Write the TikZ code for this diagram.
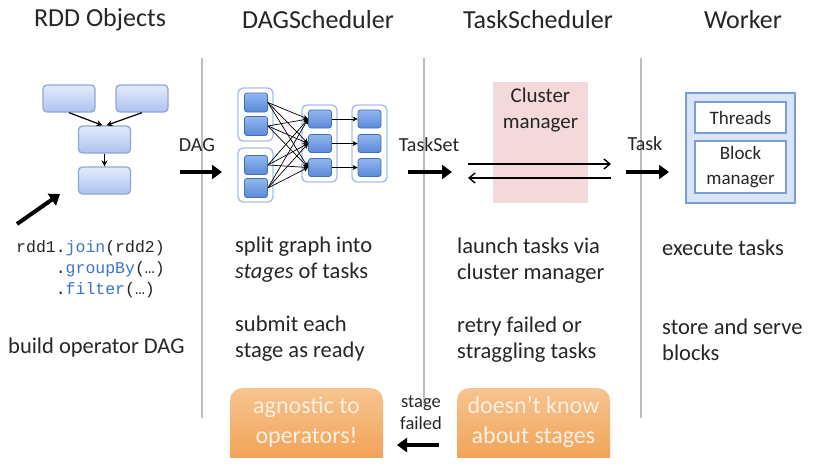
\documentclass[tikz,border=0pt]{standalone}
\usepackage{fontspec}
\setmainfont{Carlito}
\newfontfamily\codefont{Liberation Mono}
\usetikzlibrary{arrows.meta}
\definecolor{txt}{HTML}{262626}
\definecolor{sepgray}{HTML}{BDBDBD}
\definecolor{codeblue}{HTML}{3F74C8}
\definecolor{rddtop}{HTML}{E3EBFC}
\definecolor{rddbot}{HTML}{AFC3EF}
\definecolor{rddline}{HTML}{8FA6D6}
\definecolor{dagtop}{HTML}{93B7EF}
\definecolor{dagbot}{HTML}{5A89D7}
\definecolor{dagline}{HTML}{4070C0}
\definecolor{grpline}{HTML}{A9C0E6}
\definecolor{pink}{HTML}{F3D9D9}
\definecolor{wkfill}{HTML}{D9E4F6}
\definecolor{wkline}{HTML}{7C9CD6}
\definecolor{orgtop}{HTML}{F7C490}
\definecolor{orgbot}{HTML}{EF9A48}
\definecolor{orgtext}{HTML}{FDF0E2}
\begin{document}
\begin{tikzpicture}[x=1pt,y=-1pt,
  title/.style={text=txt,font=\fontsize{26}{30}\selectfont,inner sep=0pt},
  body/.style={text=txt,font=\fontsize{22.5}{26}\selectfont,align=left,anchor=west,inner sep=0pt},
  lbl/.style={text=txt,font=\fontsize{20}{22}\selectfont,inner sep=0pt},
  code/.style={text=txt,font=\codefont\fontsize{16.5}{21}\selectfont,align=left,anchor=west,inner sep=0pt},
  sep/.style={draw=sepgray,line width=1.5pt},
  rddbox/.style={draw=rddline,line width=1.3pt,rounded corners=4pt,top color=rddtop,bottom color=rddbot,minimum width=52pt,minimum height=27pt,inner sep=0pt},
  rddedge/.style={draw=black,line width=1.2pt,-{Stealth[length=6pt,width=6pt]}},
  grp/.style={draw=grpline,fill=white,line width=1.4pt,rounded corners=5pt,minimum width=35pt,inner sep=0pt},
  daginner/.style={draw=dagline,line width=0.8pt,rounded corners=2.5pt,top color=dagtop,bottom color=dagbot,minimum width=23pt,minimum height=19pt,inner sep=0pt},
  dagedge/.style={draw=black,line width=0.7pt,-{Stealth[length=5pt,width=5pt]}},
  bigarrow/.style={draw=black,line width=4pt,-{Triangle[length=10pt,width=14pt]}},
  thinarrow/.style={draw=black,line width=1.4pt,-{Straight Barb[length=6pt,width=10pt]}},
  wkbox/.style={draw=wkline,line width=1.4pt,fill=white,minimum width=91pt,inner sep=0pt},
  orgbox/.style={top color=orgtop,bottom color=orgbot,rounded corners=12pt,minimum width=153pt,minimum height=90pt,inner sep=0pt,anchor=north},
  orgtxt/.style={text=orgtext,font=\fontsize{24}{30}\selectfont,align=center,inner sep=0pt}
]
\useasboundingbox[fill=white] (0,0) rectangle (820,466);

% titles
\node[title] (t1) at (100,20) {RDD Objects};
\node[title] (t2) at (318,20) {DAGScheduler};
\node[title] (t3) at (538,20) {TaskScheduler};
\node[title] (t4) at (743,20) {Worker};

% separators
\coordinate (s1a) at (202,58); \coordinate (s1b) at (202,418);
\coordinate (s2a) at (424,58); \coordinate (s2b) at (424,405);
\coordinate (s3a) at (641,58); \coordinate (s3b) at (641,418);
\draw[sep] (s1a) -- (s1b);
\draw[sep] (s2a) -- (s2b);
\draw[sep] (s3a) -- (s3b);

% RDD objects
\node[rddbox] (r1) at (69,98.5) {};
\node[rddbox] (r2) at (142,98.5) {};
\node[rddbox] (r3) at (104.5,139.5) {};
\node[rddbox] (r4) at (104.5,180.5) {};
\draw[rddedge] (r1.south) -- ([xshift=-2pt]r3.north);
\draw[rddedge] (r2.south) -- ([xshift=2pt]r3.north);
\draw[rddedge] (r3.south) -- (r4.north);

\coordinate (da) at (17,224);
\coordinate (db) at (60,194);
\draw[bigarrow] (da) -- (db);

\node[code] (code) at (16,269) {rdd1.\textcolor{codeblue}{join}(rdd2)\\
\hphantom{rdd1}.\textcolor{codeblue}{groupBy}(…)\\
\hphantom{rdd1}.\textcolor{codeblue}{filter}(…)};
\node[body] (b1) at (8,347) {build operator DAG};

% DAG arrow
\node[lbl] (ldag) at (197,145) {DAG};
\coordinate (a1a) at (180,172); \coordinate (a1b) at (222,172);
\draw[bigarrow] (a1a) -- (a1b);

% DAG scheduler graph
\node[grp,minimum height=53pt] (g1) at (255.5,114.5) {};
\node[grp,minimum height=54pt] (g2) at (255.5,175) {};
\node[grp,minimum height=77pt] (g3) at (319.5,143.5) {};
\node[grp,minimum height=77pt] (g4) at (369.5,143.5) {};
\node[daginner] (a1) at (256,102.5) {};
\node[daginner] (a2) at (256,126) {};
\node[daginner] (b1) at (256,165) {};
\node[daginner] (b2) at (256,188) {};
\node[daginner,minimum height=18pt] (c1) at (320,119) {};
\node[daginner,minimum height=18pt] (c2) at (320,143.5) {};
\node[daginner,minimum height=18pt] (c3) at (320,167.5) {};
\node[daginner,minimum height=18pt] (d1) at (369.5,119) {};
\node[daginner,minimum height=18pt] (d2) at (369.5,143.5) {};
\node[daginner,minimum height=18pt] (d3) at (369.5,167.5) {};
\foreach \s in {a1,a2,b1,b2}
  \foreach \t in {c1,c2,c3}
    \draw[dagedge] (\s.east) -- (\t.west);
\draw[dagedge] (c1.east) -- (d1.west);
\draw[dagedge] (c2.east) -- (d2.west);
\draw[dagedge] (c3.east) -- (d3.west);

\node[body] (sp) at (235,260) {split graph into\\\textit{stages} of tasks};
\node[body] (sb) at (235,339) {submit each\\stage as ready};

% TaskSet arrow
\node[lbl] (lts) at (429,145) {TaskSet};
\coordinate (a2a) at (408,172); \coordinate (a2b) at (452,172);
\draw[bigarrow] (a2a) -- (a2b);

% Cluster manager
\node[fill=pink,minimum width=95pt,minimum height=121pt,inner sep=0pt] (cm) at (540.5,142.5) {};
\node[lbl,font=\fontsize{21}{26}\selectfont,align=center] (cmt) at (540.5,110) {Cluster\\manager};
\coordinate (c1a) at (468,164); \coordinate (c1b) at (611,164);
\coordinate (c2a) at (611,178); \coordinate (c2b) at (468,178);
\draw[thinarrow] (c1a) -- (c1b);
\draw[thinarrow] (c2a) -- (c2b);

\node[body] (la) at (457,261) {launch tasks via\\cluster manager};
\node[body] (rt) at (457,340) {retry failed or\\straggling tasks};

% Task arrow
\node[lbl] (ltk) at (645,144) {Task};
\coordinate (a3a) at (626,172); \coordinate (a3b) at (669,172);
\draw[bigarrow] (a3a) -- (a3b);

% Worker
\node[draw=wkline,line width=2.5pt,fill=wkfill,minimum width=109pt,minimum height=110pt,inner sep=0pt] (wk) at (740.5,148) {};
\node[wkbox,minimum height=31pt,lbl,font=\fontsize{19}{24}\selectfont] (th) at (740.5,117.5) {Threads};
\node[wkbox,minimum height=52pt,lbl,font=\fontsize{19}{25}\selectfont,align=center] (bm) at (740.5,167) {Block\\manager};

\node[body] (ex) at (662,248) {execute tasks};
\node[body] (st) at (662,340) {store and serve\\blocks};

% bottom orange boxes
\begin{scope}
\clip (0,0) rectangle (820,457);
\node[orgbox] (ag) at (306.5,388) {};
\node[orgbox] (dk) at (533.5,388) {};
\end{scope}
\node[orgtxt] (agt) at (306.5,422) {agnostic to\\operators!};
\node[orgtxt] (dkt) at (533.5,422) {doesn’t know\\about stages};

\node[lbl,font=\fontsize{18.5}{22}\selectfont,align=center] (sf) at (421,413) {stage\\failed};
\coordinate (f1) at (439,445); \coordinate (f2) at (397,445);
\draw[bigarrow] (f1) -- (f2);
\end{tikzpicture}
\end{document}
